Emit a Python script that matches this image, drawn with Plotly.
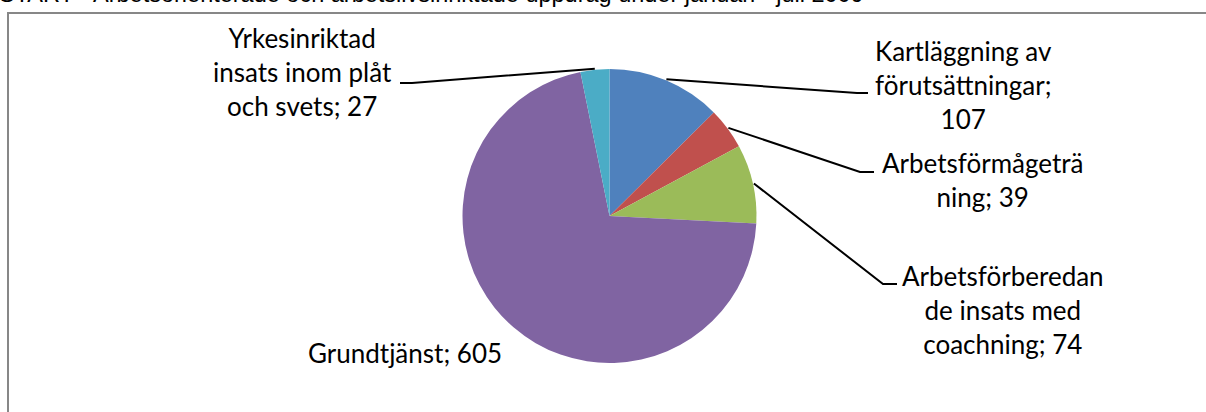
import math
import plotly.graph_objects as go

# ---------------- data ----------------
categories = [
    "Kartläggning av förutsättningar",
    "Arbetsförmågeträning",
    "Arbetsförberedande insats med coachning",
    "Grundtjänst",
    "Yrkesinriktad insats inom plåt och svets",
]
values = [107, 39, 74, 605, 27]
# label text as wrapped in the original (value inserted via {v})
label_templates = [
    "Kartläggning av<br>förutsättningar;<br>{v}",
    "Arbetsförmågeträ<br>ning; {v}",
    "Arbetsförberedan<br>de insats med<br>coachning; {v}",
    "Grundtjänst; {v}",
    "Yrkesinriktad<br>insats inom plåt<br>och svets; {v}",
]
colors = ["#4F81BD", "#C0504D", "#9BBB59", "#8064A2", "#4BACC6"]
title_text = "START - Arbetsorienterade och arbetslivsinriktade uppdrag under januari - juli 2009"

# ---------------- layout constants (pixels) ----------------
W, H = 1206, 412
CX, CY, R = 609.5, 216.0, 147.0
# label centres, leader elbows and leader ends (None = no leader)
label_pos = [(963, 85), (982, 180), (1003, 310), (405, 353), (302, 72)]
leader_elbow = [(857, 93), (860, 172), (883, 284), None, (412, 83)]
leader_end = [(868, 93), (874, 172), (897, 284), None, (400, 83)]
FONT = "Lato"
FONT_SIZE = 26


def px(x, y):
    return x / W, 1 - y / H


fig = go.Figure(
    go.Pie(
        labels=categories,
        values=values,
        sort=False,
        direction="clockwise",
        rotation=0,
        marker=dict(colors=colors, line=dict(width=0)),
        textinfo="none",
        hoverinfo="label+value",
        domain=dict(x=[(CX - R) / W, (CX + R) / W], y=[1 - (CY + R) / H, 1 - (CY - R) / H]),
        showlegend=False,
    )
)

total = sum(values)
cum = 0
shapes = []
annotations = []
for i, v in enumerate(values):
    mid = (cum + v / 2) / total * 2 * math.pi
    cum += v
    ex, ey = CX + (R + 1) * math.sin(mid), CY - (R + 1) * math.cos(mid)
    if leader_elbow[i] is not None:
        p0 = px(ex, ey)
        p1 = px(*leader_elbow[i])
        p2 = px(*leader_end[i])
        shapes.append(dict(
            type="path", xref="paper", yref="paper",
            path=f"M {p0[0]} {p0[1]} L {p1[0]} {p1[1]} L {p2[0]} {p2[1]}",
            line=dict(color="black", width=2),
        ))
    lx, ly = px(*label_pos[i])
    annotations.append(dict(
        x=lx, y=ly, xref="paper", yref="paper", xanchor="center", yanchor="middle",
        text=label_templates[i].format(v=v), showarrow=False, align="center",
        font=dict(family=FONT, size=FONT_SIZE, color="#000000"),
    ))

# chart border (extends beyond bottom and right of the view)
bx0, by0 = px(8, 13)
bx1, by1 = px(1208, 430)
shapes.append(dict(type="rect", xref="paper", yref="paper", x0=bx0, y0=by1, x1=bx1, y1=by0,
                   line=dict(color="#878787", width=2), fillcolor="rgba(0,0,0,0)", layer="below"))

# cut-off title at the very top
tx, ty = px(-3, -6)
annotations.append(dict(
    x=tx, y=ty, xref="paper", yref="paper", xanchor="left", yanchor="middle",
    text=title_text, showarrow=False,
    font=dict(family="Liberation Sans", size=23.5, color="#000000"),
))

fig.update_layout(
    width=W, height=H,
    margin=dict(l=0, r=0, t=0, b=0),
    paper_bgcolor="white", plot_bgcolor="white",
    shapes=shapes, annotations=annotations,
)

fig.write_html(
    "out.html",
    config={"displayModeBar": False},
    post_script="document.body.style.margin='0';document.body.style.overflow='hidden';",
)
